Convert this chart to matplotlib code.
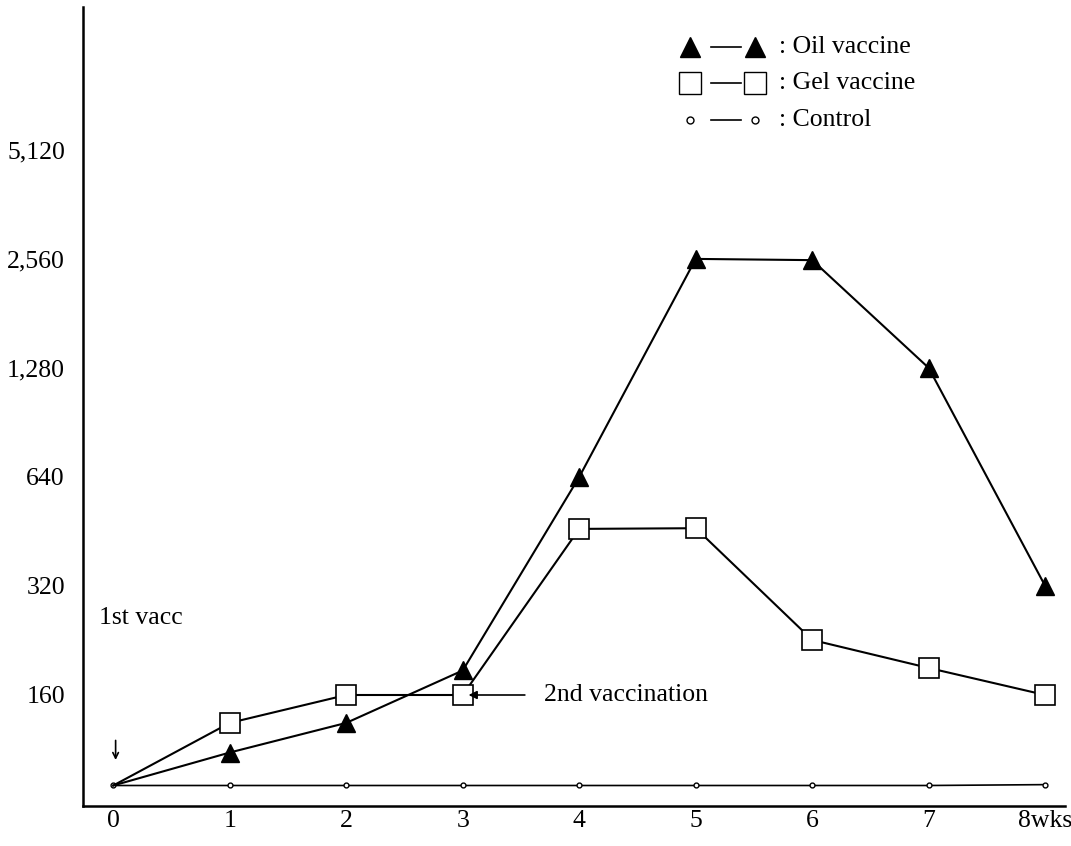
import matplotlib.pyplot as plt
from matplotlib.lines import Line2D

plt.rcParams['font.family'] = ['Liberation Serif', 'DejaVu Serif']

weeks = [0, 1, 2, 3, 4, 5, 6, 7, 8]
week_labels = ['0', '1', '2', '3', '4', '5', '6', '7', '8wks']
oil = [90, 111, 134, 187, 640, 2560, 2540, 1280, 320]
gel = [90, 134, 160, 160, 460, 462, 227, 190, 160]
control = [90, 90, 90, 90, 90, 90, 90, 90, 90.5]
y_ticks = [160, 320, 640, 1280, 2560, 5120]
y_labels = ['160', '320', '640', '1,280', '2,560', '5,120']

fig = plt.figure(figsize=(10.71, 8.46), dpi=100)
ax = fig.add_axes([83 / 1071, 40 / 846, 982 / 1071, 799 / 846])

ax.set_yscale('log', base=2)
ax.set_ylim(79, 12700)
ax.set_xlim(-0.26, 8.17)

ax.plot(weeks, control, color='black', lw=1.2, marker='o', ms=3.5,
        mfc='white', mec='black', mew=1)
ax.plot(weeks, gel, color='black', lw=1.5, marker='s', ms=15,
        mfc='white', mec='black', mew=1.2, markevery=list(range(1, 9)))
ax.plot(weeks, oil, color='black', lw=1.5, marker='^', ms=13,
        mfc='black', mec='black', markevery=list(range(1, 9)))

ax.spines['top'].set_visible(False)
ax.spines['right'].set_visible(False)
ax.spines['left'].set_linewidth(1.8)
ax.spines['bottom'].set_linewidth(1.8)

ax.set_xticks(weeks)
ax.set_xticklabels(week_labels)
ax.set_yticks(y_ticks)
ax.set_yticklabels(y_labels)
ax.minorticks_off()
ax.tick_params(length=0, labelsize=18.5)
ax.tick_params(axis='x', pad=3)
ax.tick_params(axis='y', pad=13)

# annotations
ax.text(-0.12, 261, '1st vacc', fontsize=18.5, va='center', ha='left')
ax.annotate('', xy=(0.02, 104), xytext=(0.02, 122),
            arrowprops=dict(arrowstyle='->', color='black', lw=1.2))
ax.annotate('2nd vaccination', xy=(3.05, 160), xytext=(3.7, 160),
            fontsize=18.5, va='center', ha='left',
            arrowprops=dict(arrowstyle='-|>', color='black', lw=1.2,
                            shrinkA=12, shrinkB=0, mutation_scale=12))

# legend
rows = [('^', 'black', 14, ': Oil vaccine', 0.950),
        ('s', 'white', 16, ': Gel vaccine', 0.905),
        ('o', 'white', 5, ': Control', 0.859)]
for mk, fc, ms, label, yy in rows:
    ax.add_line(Line2D([0.618, 0.684], [yy, yy], transform=ax.transAxes,
                       color='none', marker=mk, ms=ms, mfc=fc, mec='black', mew=1))
    ax.add_line(Line2D([0.640, 0.670], [yy, yy], transform=ax.transAxes,
                       color='black', lw=1.2))
    ax.text(0.709, yy, label, transform=ax.transAxes, fontsize=18.5,
            va='center', ha='left')

fig.savefig('out.png', dpi=100)
